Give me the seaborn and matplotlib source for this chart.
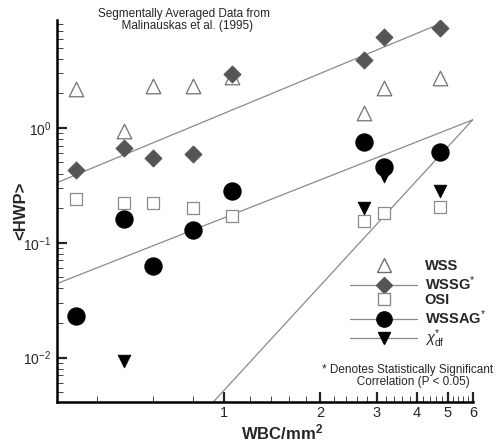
import numpy as np
import pandas as pd
import matplotlib
matplotlib.use("Agg")
import matplotlib.pyplot as plt
import seaborn as sns
from matplotlib.lines import Line2D
from matplotlib.ticker import FixedLocator, NullFormatter, LogLocator, LogFormatterMathtext

# WBC/mm^2 at each segment
wbc = [0.344, 0.486, 0.60, 0.80, 1.06, 2.73, 3.15, 4.72]

wss = [2.18, 0.94, 2.32, 2.32, 2.75, 1.35, 2.23, 2.72]
wssg = [0.43, 0.67, 0.55, 0.59, 2.95, 3.9, 6.2, 7.4]
osi = [0.24, 0.22, 0.22, 0.20, 0.17, 0.155, 0.18, 0.205]
wssag = [0.023, 0.16, 0.063, 0.13, 0.283, 0.755, 0.46, 0.62]
chi_x = [0.486, 2.73, 3.15, 4.72]
chi_df = [0.0094, 0.20, 0.38, 0.28]

# power-law fits  y = a * x^b  and the x range they are drawn on
fit_wssg = (1.34, 1.155, 0.3, 4.75)
fit_wssag = (0.165, 1.097, 0.3, 6.0)
fit_chi = (0.0052, 3.03, 0.92, 6.0)

sns.set_style("white")
plt.rcParams['font.family'] = ['Liberation Sans', 'DejaVu Sans']
plt.rcParams['mathtext.fontset'] = 'custom'
plt.rcParams['mathtext.rm'] = 'Liberation Sans'
plt.rcParams['mathtext.it'] = 'Liberation Sans:italic'
plt.rcParams['mathtext.bf'] = 'Liberation Sans:bold'

fig = plt.figure(figsize=(4.97, 4.42), dpi=100)
ax = fig.add_axes([57/497, 1-402/442, 416/497, 382/442])

line_col = '#8a8a8a'
for a, b, x0, x1 in [fit_wssg, fit_wssag, fit_chi]:
    xs = np.geomspace(x0, x1, 50)
    sns.lineplot(x=xs, y=a*xs**b, ax=ax, color=line_col, lw=0.9, zorder=1)

sns.scatterplot(x=wbc, y=wss, ax=ax, marker='^', s=110, facecolor='white',
                edgecolor='#707070', linewidth=0.9, zorder=3)
sns.scatterplot(x=wbc, y=wssg, ax=ax, marker='D', s=75, color='#555555',
                edgecolor='#555555', zorder=4)
sns.scatterplot(x=wbc, y=osi, ax=ax, marker='s', s=80, facecolor='white',
                edgecolor='#8a8a8a', linewidth=0.9, zorder=3)
sns.scatterplot(x=wbc, y=wssag, ax=ax, marker='o', s=150, color='black',
                edgecolor='black', zorder=4)
sns.scatterplot(x=chi_x, y=chi_df, ax=ax, marker='v', s=80, color='black',
                edgecolor='black', zorder=4)

ax.set_xscale('log')
ax.set_yscale('log')
ax.set_xlim(0.3, 6)
ax.set_ylim(0.0041, 8.7)

ax.xaxis.set_major_locator(FixedLocator([1, 2, 3, 4, 5, 6]))
ax.xaxis.set_major_formatter(matplotlib.ticker.FixedFormatter(['1', '2', '3', '4', '5', '6']))
minor_x = [0.4, 0.6, 0.8] + [v for v in np.round(np.arange(1.2, 6.0, 0.2), 1) if v not in (2, 3, 4, 5)]
ax.xaxis.set_minor_locator(FixedLocator(minor_x))
ax.xaxis.set_minor_formatter(NullFormatter())
ax.yaxis.set_major_locator(LogLocator(base=10))
ax.yaxis.set_major_formatter(LogFormatterMathtext())
ax.yaxis.set_minor_locator(LogLocator(base=10, subs=np.arange(2, 10)))
ax.yaxis.set_minor_formatter(NullFormatter())

ax.tick_params(which='both', bottom=True, left=True, top=False, right=False)
ax.tick_params(which='major', direction='in', length=7, width=1.6, labelsize=10, pad=4)
ax.tick_params(which='minor', direction='in', length=4, width=0.6)
ax.tick_params(axis='x', which='major', labelsize=10.5, pad=3)
for side in ['top', 'right']:
    ax.spines[side].set_visible(False)
for side in ['left', 'bottom']:
    ax.spines[side].set_linewidth(1.8)
    ax.spines[side].set_color('black')

ax.set_ylabel('<HWP>', fontsize=12, fontweight='bold')
ax.yaxis.set_label_coords(-0.068, 0.5)
ax.set_xlabel('WBC/mm$^\\mathbf{2}$', fontsize=12, fontweight='bold')
ax.xaxis.set_label_coords(0.54, -0.054)

handles = [
    Line2D([], [], ls='none', marker='^', ms=10, mfc='white', mec='#707070'),
    Line2D([], [], color=line_col, lw=0.9, marker='D', ms=8, mfc='#555555', mec='#555555'),
    Line2D([], [], ls='none', marker='s', ms=8, mfc='white', mec='#8a8a8a'),
    Line2D([], [], color=line_col, lw=0.9, marker='o', ms=11, mfc='black', mec='black'),
    Line2D([], [], color=line_col, lw=0.9, marker='v', ms=9, mfc='black', mec='black'),
]
labels = ['WSS', 'WSSG$^{*}$', 'OSI', 'WSSAG$^{*}$', '$\\chi_{\\mathrm{df}}^{*}$']
ax.legend(handles, labels, loc='upper left', bbox_to_anchor=(286/416, 1-(252-20)/382),
          frameon=False, handlelength=4.6, handletextpad=0.5, labelspacing=0.05,
          prop={'weight': 'bold', 'size': 10.5}, borderpad=0)

fig.text((96+272)/2/497, 0.982, 'Segmentally Averaged Data from\n  Malinauskas et al. (1995)',
         ha='center', va='top', fontsize=8.5, linespacing=1.0)
fig.text(408/497, 1-364/442, '* Denotes Statistically Significant\n   Correlation (P < 0.05)',
         ha='center', va='top', fontsize=8.5, linespacing=1.0)

fig.savefig('out.png', dpi=100)
